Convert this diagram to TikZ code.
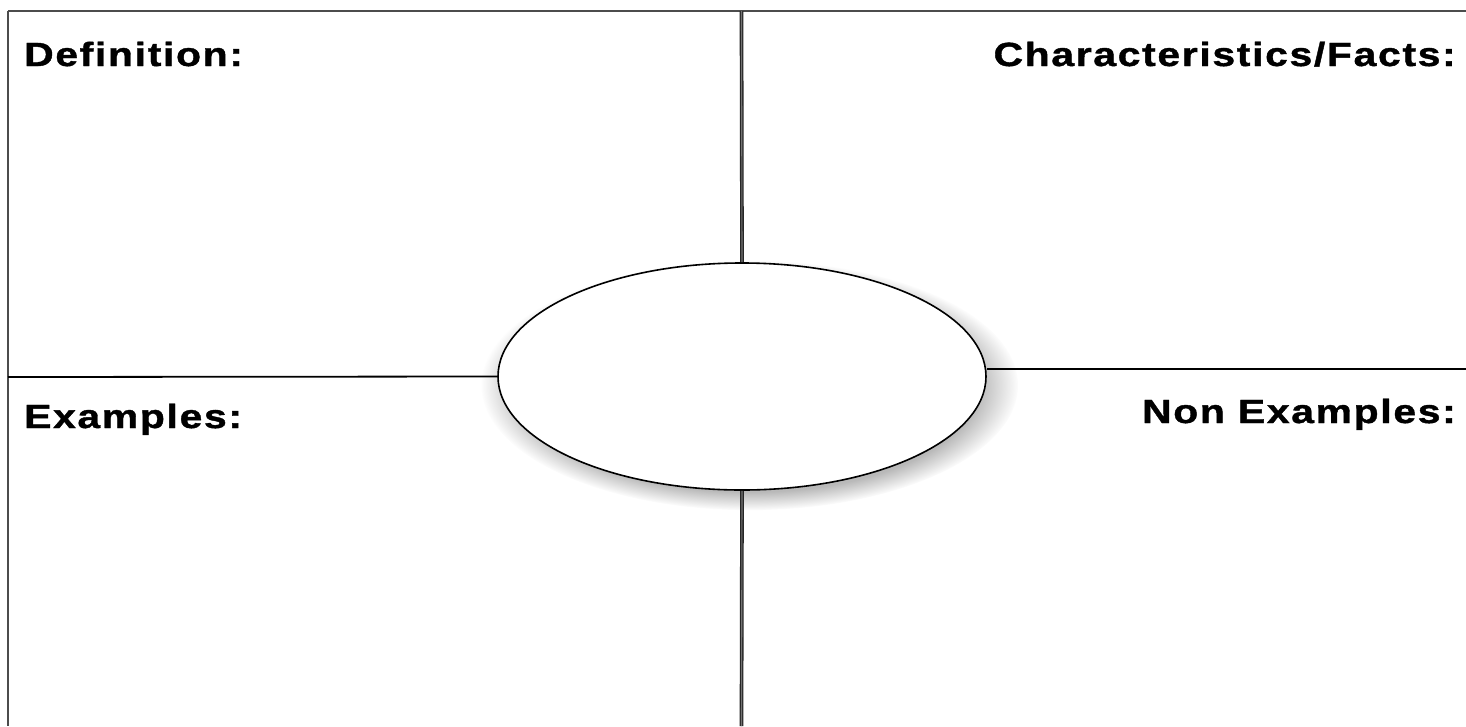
\documentclass[tikz,border=0pt]{standalone}
\usepackage{fontspec}
\newfontfamily\frayerfont[FakeStretch=1.22, LetterSpace=5, FakeBold=1.2]{Liberation Sans}
\usepackage{tikz}
\usetikzlibrary{positioning,shapes.geometric,shadows}

\begin{document}
\begin{tikzpicture}[x=1pt, y=-1pt,
  frame/.style={draw=black!70, line width=2.2pt},
  divider/.style={draw=black!85, line width=1.3pt, double=black!55, double distance=1.1pt},
  cross/.style={draw=black, line width=1.8pt},
  term/.style={ellipse, draw=black, line width=1.6pt, fill=white, minimum width=488pt, minimum height=227pt, inner sep=0pt,
    circular drop shadow={shadow xshift=7pt, shadow yshift=-8pt, opacity=.55}},
  heading/.style={font={\frayerfont\bfseries\fontsize{33.5}{36}\selectfont}, inner sep=0pt}
]
\useasboundingbox (0,0) rectangle (1466,726);
\fill[white] (0,0) rectangle (1466,726);
\coordinate (tl) at (8,11);
\coordinate (tr) at (1466,11);
\coordinate (bl) at (8,726);
\coordinate (tm) at (741.5,11);
\coordinate (bm) at (741.5,726);
\coordinate (lm) at (8,377);
\coordinate (rm) at (1466,369);
\node[term] (center) at (742,376.5) {};
\draw[frame] (tl) -- (tr);
\draw[frame] (tl) -- (bl);
\draw[divider] (tm) -- (center.north);
\draw[divider] (center.south) -- (bm);
\draw[cross] (lm) -- (center.west);
\draw[cross] (center.east |- rm) -- (rm);
\node[heading, anchor=base west] (def) at (24,66) {Definition:};
\node[heading, anchor=base east] (facts) at (1456,66) {Characteristics/Facts:};
\node[heading, anchor=base west] (ex) at (24,428) {Examples:};
\node[heading, anchor=base east] (nonex) at (1456,423) {Non Examples:};
\end{tikzpicture}
\end{document}
